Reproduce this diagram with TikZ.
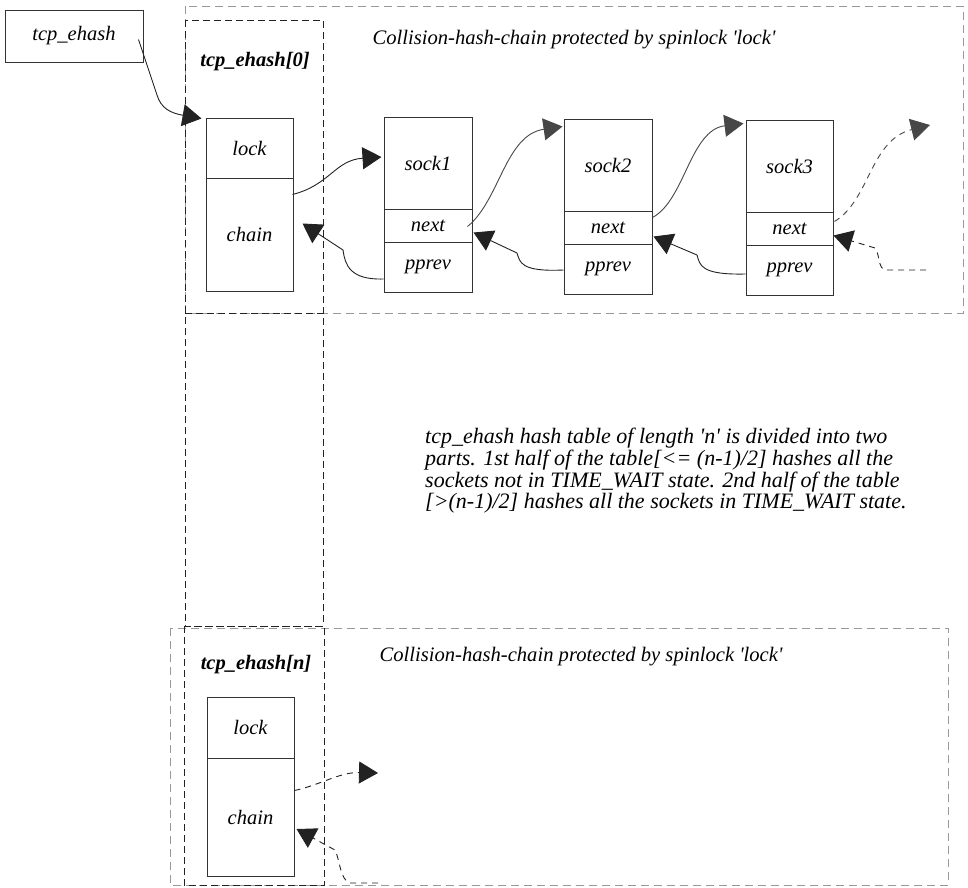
\documentclass[tikz,border=0pt]{standalone}
\usepackage{fontspec}
\setmainfont{Liberation Serif}
\usetikzlibrary{arrows.meta,calc}
\definecolor{boxline}{HTML}{333333}
\definecolor{framegray}{HTML}{999999}
\definecolor{arrblack}{HTML}{222222}
\definecolor{arrgray}{HTML}{474747}
\newcommand{\sq}{\textquotesingle}
\begin{document}
\begin{tikzpicture}[x=1pt,y=-1pt,
  cell/.style={draw=boxline,line width=1pt,inner sep=0pt,minimum width=87pt,font=\fontsize{20.5}{24}\selectfont\itshape},
  grayframe/.style={draw=framegray,line width=0.9pt,dash pattern=on 8pt off 5pt},
  blackframe/.style={draw=arrblack,line width=0.9pt,dash pattern=on 7pt off 4pt},
  lbl/.style={font=\fontsize{20.6}{24}\selectfont\itshape,inner sep=0pt},
  ptr/.style={line width=0.9pt,-{Triangle[length=19pt,width=22pt]}},
  ptrb/.style={ptr,draw=arrblack,arrows={-{Triangle[length=19pt,width=22pt,fill=arrblack]}}},
  ptrg/.style={ptr,draw=arrgray,arrows={-{Triangle[length=19pt,width=22pt,fill=arrgray]}}},
  dsh/.style={dash pattern=on 6pt off 5pt}
]
\useasboundingbox (0,0) rectangle (968,887);
% frames
\draw[grayframe] (185,6) rectangle (963,313);
\draw[grayframe] (170,628) rectangle (948,885);
\draw[blackframe] (185,20) rectangle (323,626);
\draw[blackframe] (185,313) -- (323,313);
\draw[blackframe] (184,626) rectangle (324,885);

% tcp_ehash
\node[cell,minimum width=138pt,minimum height=52pt] (ehash) at (74,36) {tcp\_ehash};

% bucket 0
\node[lbl,font=\fontsize{20.5}{24}\selectfont\itshape\bfseries] (b0) at (255,62) {tcp\_ehash[0]};
\node[cell,minimum height=60pt] (lock0) at (249.5,148) {lock};
\node[cell,minimum height=113pt] (chain0) at (249.5,234.5) {chain};

% sockets
\node[cell,minimum width=88pt,minimum height=92pt] (s1) at (428,163) {sock1};
\node[cell,minimum width=88pt,minimum height=33pt] (n1) at (428,225.5) {next};
\node[cell,minimum width=88pt,minimum height=50pt] (p1) at (428,267) {\raisebox{-2pt}{pprev}};

\node[cell,minimum width=88pt,minimum height=92pt] (s2) at (608,165) {sock2};
\node[cell,minimum width=88pt,minimum height=33pt] (n2) at (608,227.5) {next};
\node[cell,minimum width=88pt,minimum height=50pt] (p2) at (608,269) {\raisebox{-2pt}{pprev}};

\node[cell,minimum width=87pt,minimum height=92pt] (s3) at (789.5,166) {sock3};
\node[cell,minimum width=87pt,minimum height=33pt] (n3) at (789.5,228.5) {next};
\node[cell,minimum width=87pt,minimum height=50pt] (p3) at (789.5,270) {\raisebox{-2pt}{pprev}};

\node[lbl] (t0) at (574,40) {Collision-hash-chain protected by spinlock \sq lock\sq};

% bucket n
\node[lbl,font=\fontsize{20.5}{24}\selectfont\itshape\bfseries] (bn) at (256,665) {tcp\_ehash[n]};
\node[cell,minimum height=61pt] (lockn) at (250.5,727.5) {lock};
\node[cell,minimum height=118pt] (chainn) at (250.5,817) {chain};
\node[lbl] (tn) at (581,657) {Collision-hash-chain protected by spinlock \sq lock\sq};

% paragraph
\node[lbl,anchor=north west,align=left,font=\fontsize{22}{21.7}\selectfont\itshape] (para) at (425,428)
{tcp\_ehash hash table of length \sq n\sq\ is divided into two\\
parts. 1st half of the table{[}<= (n-1)/2{]} hashes all the\\
sockets not in TIME\_WAIT state. 2nd half of the table\\
{[}>(n-1)/2{]} hashes all the sockets in TIME\_WAIT state.};

% free ends
\coordinate (e1) at (930,125);
\coordinate (e2) at (926,270);
\coordinate (e3) at (378,773);
\coordinate (e4) at (378,883);

% connectors
\draw[ptrb] ($(ehash.north east)+(-5,30)$) -- (157,95) .. controls (161,108) and (170,113) .. ($(lock0.north west)+(-4,1)$);
\draw[ptrb] ($(chain0.north east)+(-1,17)$) .. controls (330,185) and (335,160) .. ($(s1.west)+(-2,-6)$);
\draw[ptrb] ($(p1.west)+(0,12)$) .. controls (350,280) and (345,265) .. (343,250) -- ($(chain0.east)+(9,-11)$);
\draw[ptrg] ($(n1.east)+(-5,1)$) .. controls (500,200) and (505,135) .. ($(s2.north west)+(-1,8)$);
\draw[ptrb] ($(p2.west)+(0,1)$) .. controls (520,272) and (520,262) .. (517,253) -- ($(n1.east)+(1,7)$);
\draw[ptrg] ($(n2.east)+(0,-10)$) .. controls (685,200) and (690,130) .. ($(s3.north west)+(-2,4)$);
\draw[ptrb] ($(p3.west)+(0,4)$) .. controls (700,275) and (700,265) .. (697,255) -- ($(n2.east)+(1,9)$);
\draw[ptrg,dsh] ($(n3.east)+(1,-7)$) .. controls (870,200) and (870,140) .. (e1);
\draw[ptrb,dsh] (e2) -- (885,270) .. controls (878,268) and (880,255) .. (875,248) -- ($(n3.east)+(0,7)$);
\draw[ptrb,dsh] ($(chainn.north east)+(0,33)$) .. controls (320,785) and (340,772) .. (e3);
\draw[ptrb,dsh] (e4) -- (350,883) .. controls (340,880) and (340,860) .. (335,850) -- ($(chainn.east)+(2,12)$);
\end{tikzpicture}
\end{document}
